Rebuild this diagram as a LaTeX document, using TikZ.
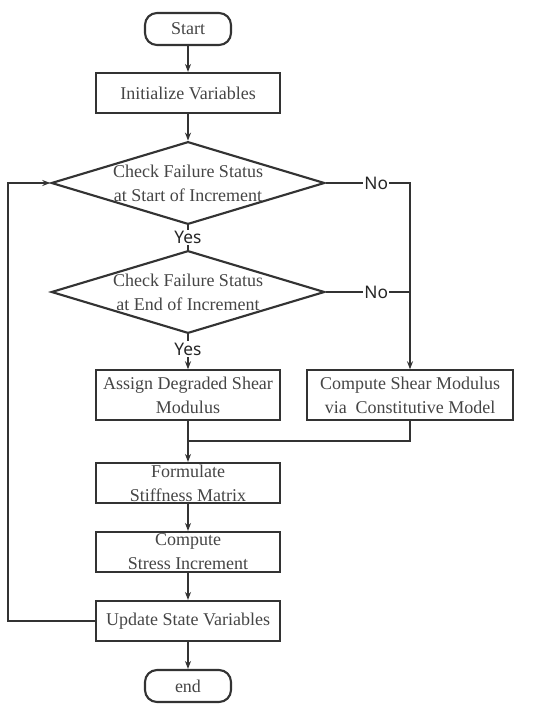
\documentclass[tikz,border=0pt]{standalone}
\usepackage{fontspec}
\setmainfont{Liberation Serif}
\newfontfamily\yesnofont{Noto Sans}
\usetikzlibrary{positioning,arrows.meta,shapes.geometric,calc}
\definecolor{lineGray}{HTML}{333333}
\definecolor{textGray}{HTML}{454545}

\begin{document}
\begin{tikzpicture}[
  x=0.75pt, y=-0.75pt,
  every node/.style={align=center,text=textGray,font=\fontsize{13.5}{18}\selectfont},
  term/.style={draw=lineGray,line width=1.6pt,rounded corners=9pt,minimum width=64.5pt,minimum height=24pt,inner sep=0pt},
  proc/.style={draw=lineGray,line width=1.6pt,minimum width=138pt,minimum height=30pt,inner sep=0pt},
  dec/.style={draw=lineGray,line width=1.6pt,diamond,aspect=3.3,minimum width=205pt,minimum height=62pt,inner sep=-1pt},
  flow/.style={draw=lineGray,line width=1.3pt},
  arr/.style={flow,-{Stealth[length=6pt,width=4.5pt]}},
  yn/.style={fill=white,inner sep=1pt,text=black!85,font=\yesnofont\fontsize{13}{15}\selectfont}
]
\useasboundingbox (0,0) rectangle (550,714);

% main column
\node[term] (st) at (188,29) {Start};
\node[proc] (iv) at (188,93) {Initialize Variables};
\node[dec] (d1) at (188,183) {Check Failure Status\\at Start of Increment};
\node[dec] (d2) at (188,292) {Check Failure Status\\at End of Increment};
\node[proc,minimum height=37pt] (as) at (188,395) {Assign Degraded Shear\\Modulus};
\node[proc,minimum width=154.5pt,minimum height=37pt] (cs) at (410,395) {Compute Shear Modulus\\via~ Constitutive Model};
\node[proc] (fm) at (188,483) {Formulate\\Stiffness Matrix};
\node[proc] (ci) at (188,552) {Compute\\Stress Increment};
\node[proc] (up) at (188,621) {Update State Variables};
\node[term] (en) at (188,686) {end};

% connectors
\draw[arr] (st) -- (iv);
\draw[arr] (iv) -- (d1);
\draw[flow] (d1) -- node[yn]{Yes} (d2);
\draw[arr] (d2) -- node[yn,pos=0.42]{Yes} (as);
\draw[arr] (d1.east) -- node[yn,pos=0.6]{No} (d1.east -| cs.north) -- (cs.north);
\draw[flow] (d2.east) -- node[yn,pos=0.6]{No} (d2.east -| cs.north);
\draw[arr] (as) -- (fm);
\draw[flow] (cs.south) |- ($(as.south)!0.5!(fm.north)$);
\draw[arr] (fm) -- (ci);
\draw[arr] (ci) -- (up);
\draw[arr] (up) -- (en);

% loop back
\coordinate (lp) at (8,0);
\draw[arr] (up.west) -- (up.west -| lp) |- (d1.west);
\end{tikzpicture}
\end{document}
